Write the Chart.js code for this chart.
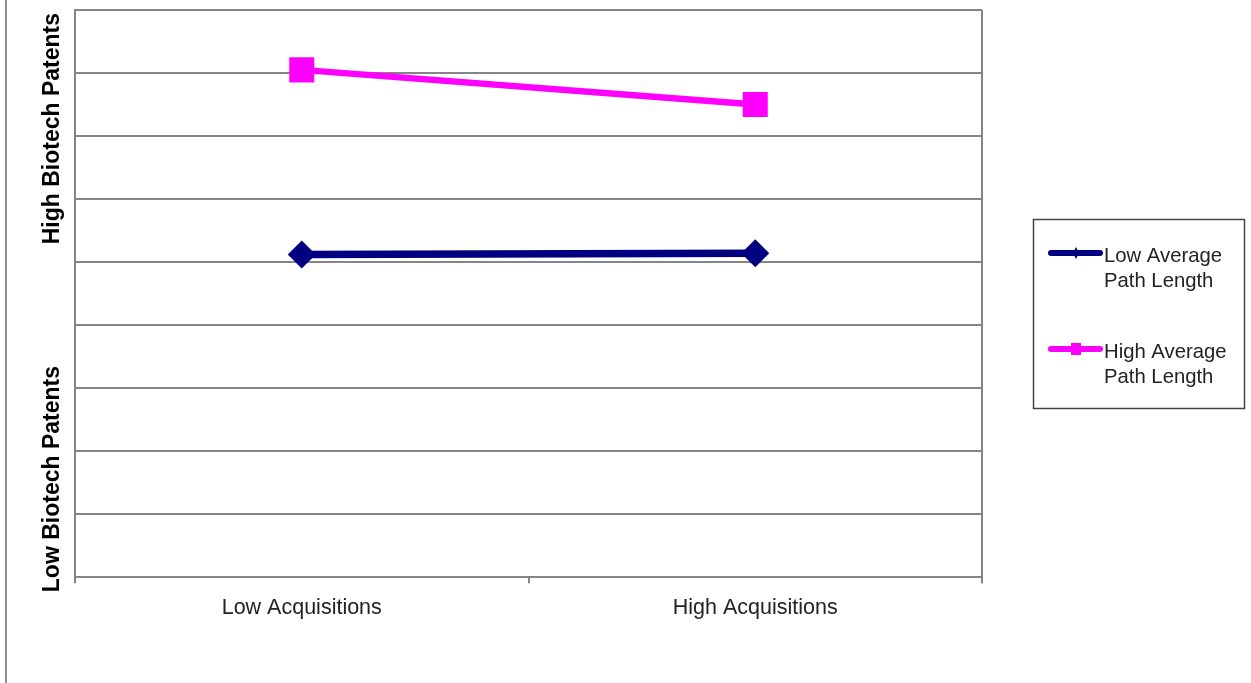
<!DOCTYPE html>
<html>
<head>
<meta charset="utf-8">
<script src="https://cdn.jsdelivr.net/npm/chart.js@4/dist/chart.umd.min.js"></script>
<style>
  html, body { margin: 0; padding: 0; background: #fff; }
  #wrap { position: relative; width: 1251px; height: 683px; }
  #frame { position: absolute; left: 5px; top: 0; width: 2px; height: 683px; background: #8f8f8f; }
</style>
</head>
<body>
<div id="wrap">
  <canvas id="chart" width="1251" height="683"></canvas>
  <div id="frame"></div>
</div>
<script>
const categories = ['Low Acquisitions', 'High Acquisitions'];
const lowPathLength = [5.12, 5.14];
const highPathLength = [8.05, 7.50];
const yMin = 0;
const yMax = 9;
const seriesNames = [['Low Average', 'Path Length'], ['High Average', 'Path Length']];
const yTitles = ['High Biotech Patents', 'Low Biotech Patents'];

const navy = '#000080';
const pink = '#ff00ff';
const gridGrey = '#858585';
const fontFam = '"Liberation Sans", Arial, sans-serif';

// plot frame, rotated axis titles and the boxed legend
const extras = {
    id: 'extras',
    afterDraw(chart) {
        const { ctx, chartArea } = chart;
        ctx.save();
        // right edge of the plot
        ctx.strokeStyle = gridGrey;
        ctx.lineWidth = 2;
        ctx.beginPath();
        ctx.moveTo(chartArea.right, chartArea.top);
        ctx.lineTo(chartArea.right, chartArea.bottom);
        ctx.stroke();

        // y titles
        ctx.fillStyle = '#000';
        ctx.font = 'bold 23px ' + fontFam;
        ctx.textBaseline = 'middle';
        ctx.translate(53, 0);
        ctx.rotate(-Math.PI / 2);
        ctx.textAlign = 'right';
        ctx.fillText(yTitles[0], -(chartArea.top + 3), 0);
        ctx.textAlign = 'left';
        ctx.fillText(yTitles[1], -(chartArea.bottom + 15), 0);
        ctx.restore();

        // legend
        ctx.save();
        ctx.strokeStyle = '#444';
        ctx.lineWidth = 1.5;
        ctx.strokeRect(1033.5, 219.5, 211, 189);
        const colors = [navy, pink];
        const rows = [253, 349];
        ctx.font = '20.3px ' + fontFam;
        ctx.textBaseline = 'middle';
        ctx.textAlign = 'left';
        rows.forEach((y, i) => {
            ctx.strokeStyle = colors[i];
            ctx.fillStyle = colors[i];
            ctx.lineWidth = 6;
            ctx.lineCap = 'round';
            ctx.beginPath();
            ctx.moveTo(1051, y);
            ctx.lineTo(1100, y);
            ctx.stroke();
            if (i === 0) {
                ctx.beginPath();
                ctx.moveTo(1076, y - 6);
                ctx.lineTo(1079, y);
                ctx.lineTo(1076, y + 6);
                ctx.lineTo(1073, y);
                ctx.closePath();
                ctx.fill();
            } else {
                ctx.fillRect(1071, y - 6, 10, 12);
            }
            ctx.fillStyle = '#222';
            ctx.fillText(seriesNames[i][0], 1104, y + 3);
            ctx.fillText(seriesNames[i][1], 1104, y + 28);
        });
        ctx.restore();
    }
};

new Chart(document.getElementById('chart'), {
    type: 'line',
    data: {
        labels: categories,
        datasets: [{
            label: seriesNames[0].join(' '),
            data: lowPathLength,
            borderColor: navy,
            backgroundColor: navy,
            borderWidth: 7.5,
            pointStyle: 'rectRot',
            pointRadius: 14,
            pointHoverRadius: 14,
            pointBorderWidth: 0
        }, {
            label: seriesNames[1].join(' '),
            data: highPathLength,
            borderColor: pink,
            backgroundColor: pink,
            borderWidth: 6.5,
            pointStyle: 'rect',
            pointRadius: 17.7,
            pointHoverRadius: 17.7,
            pointBorderWidth: 0
        }]
    },
    options: {
        responsive: false,
        animation: false,
        layout: {
            autoPadding: false,
            padding: { left: 75, top: 10, right: 269, bottom: 50 }
        },
        plugins: {
            legend: { display: false },
            tooltip: { enabled: false }
        },
        scales: {
            x: {
                offset: true,
                grid: {
                    offset: true,
                    drawOnChartArea: false,
                    color: gridGrey,
                    lineWidth: 2,
                    tickLength: 6
                },
                border: { color: gridGrey, width: 2 },
                ticks: {
                    color: '#222',
                    padding: 12,
                    font: { family: fontFam, size: 21.5 }
                }
            },
            y: {
                min: yMin,
                max: yMax,
                ticks: { display: false, stepSize: 1 },
                grid: { color: gridGrey, lineWidth: 2, drawTicks: false },
                border: { color: gridGrey, width: 2 }
            }
        }
    },
    plugins: [extras]
});
</script>
</body>
</html>
